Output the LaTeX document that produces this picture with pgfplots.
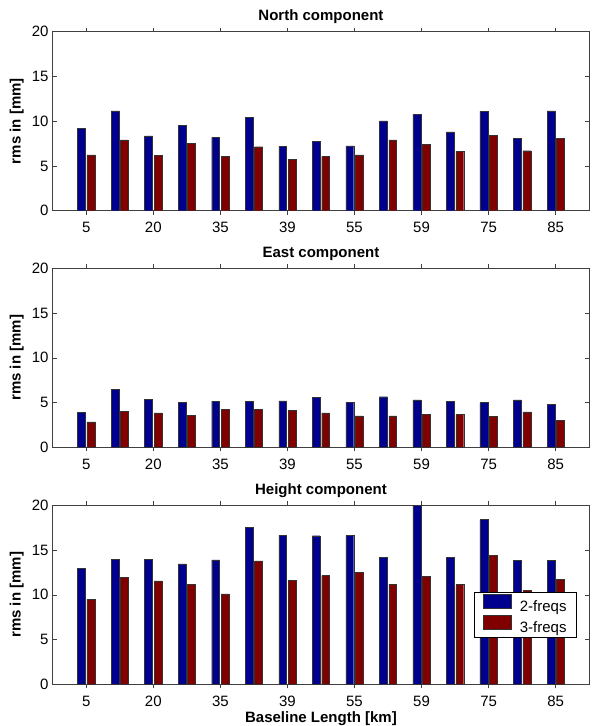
\documentclass[border=0pt]{standalone}
\usepackage{fontspec}
\setmainfont{Liberation Sans}
\usepackage{pgfplots}
\pgfplotsset{compat=1.18}
\newcommand\fs{\fontsize{15}{18}\selectfont}
\definecolor{mblue}{RGB}{0,0,143}
\definecolor{mred}{RGB}{128,0,0}
\pgfplotstableread{
g nb nr eb er hb hr
1  9.20 6.25 3.90 2.85 12.95  9.50
2 11.15 7.90 6.50 4.00 14.00 11.95
3  8.35 6.20 5.35 3.85 14.00 11.55
4  9.55 7.50 5.05 3.60 13.45 11.20
5  8.20 6.05 5.15 4.25 13.90 10.10
6 10.45 7.15 5.10 4.25 17.55 13.80
7  7.20 5.75 5.20 4.15 16.65 11.65
8  7.75 6.05 5.60 3.85 16.60 12.15
9  7.25 6.25 5.05 3.50 16.65 12.50
10 10.05 7.90 5.65 3.50 14.15 11.20
11 10.75 7.45 5.30 3.70 20.00 12.10
12  8.80 6.65 5.10 3.65 14.15 11.15
13 11.10 8.45 5.00 3.45 18.40 14.40
14  8.10 6.70 5.30 3.95 13.85 10.50
15 11.15 8.05 4.80 3.00 13.85 11.70
}\data
\pgfplotsset{
  panel/.style={
    scale only axis, width=536.5pt, height=179pt,
    xmin=0, xmax=16, ymin=0, ymax=20,
    xtick={1,3,...,15}, xticklabels={5,20,35,39,55,59,75,85},
    ytick={0,5,...,20},
    tick align=inside, major tick length=4pt,
    /pgf/number format/assume math mode=true,
    tick label style={font=\fs},
    xticklabel style={anchor=base, yshift=-17.75pt},
    yticklabel style={inner xsep=0pt, xshift=-4pt},
    ylabel={rms in [mm]},
    ylabel style={font=\fs\bfseries, at={(axis description cs:-0.067,0.5)}, anchor=center},
    title style={font=\fs\bfseries, at={(axis description cs:0.5,1)}, anchor=base, yshift=5pt},
    axis line style={black!75, line width=0.7pt},
    every tick/.style={black!75, line width=0.6pt},
    ybar, bar width=0.235,
    legend image code/.code={\draw[##1] (0pt,-1.6pt) rectangle (28pt,12.1pt);},
  },
  bb/.style={fill=mblue, draw=black!80, line width=0.4pt, bar shift=-0.14},
  rb/.style={fill=mred, draw=black!80, line width=0.4pt, bar shift=0.14},
}
\begin{document}
\begin{tikzpicture}
\useasboundingbox (0,0) rectangle (592pt,-726pt);
\begin{axis}[panel, at={(52.7pt,-210.7pt)}, anchor=south west, title={North component}]
\addplot[bb] table[x=g,y=nb]{\data};
\addplot[rb] table[x=g,y=nr]{\data};
\end{axis}
\begin{axis}[panel, at={(52.7pt,-447.3pt)}, anchor=south west, title={East component}]
\addplot[bb] table[x=g,y=eb]{\data};
\addplot[rb] table[x=g,y=er]{\data};
\end{axis}
\begin{axis}[panel, at={(52.7pt,-684.3pt)}, anchor=south west, title={Height component},
  xlabel={Baseline Length [km]},
  xlabel style={font=\fs\bfseries, at={(axis description cs:0.5,0)}, anchor=base, yshift=-37.75pt},
  legend style={at={(axis description cs:0.977,0.262)}, anchor=south east, font=\fs,
    draw=black, line width=0.6pt, fill=white, row sep=1.6pt, column sep=7pt,
    inner xsep=9pt, inner ysep=2.3pt, nodes={inner sep=1pt}},
  legend cell align=left]
\addplot[bb] table[x=g,y=hb]{\data};
\addplot[rb] table[x=g,y=hr]{\data};
\legend{2-freqs,3-freqs}
\end{axis}
\end{tikzpicture}
\end{document}
